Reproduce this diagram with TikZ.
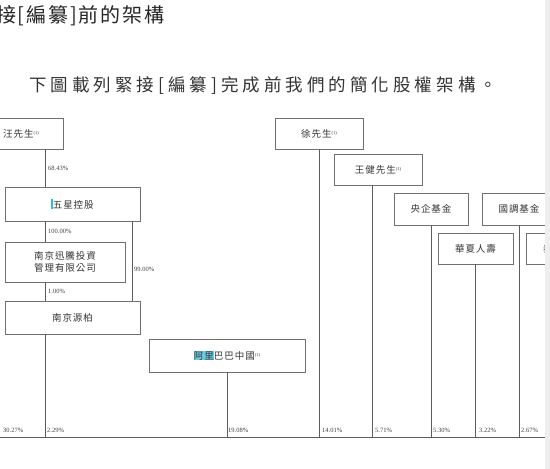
\documentclass[tikz,border=0pt]{standalone}
\usepackage{fontspec}
\setmainfont{Liberation Serif}
\newfontfamily\cjk[LetterSpace=10]{Noto Sans CJK TC}
\newfontfamily\cjktitle[LetterSpace=9]{Noto Sans CJK TC}
\newfontfamily\cjksub[LetterSpace=23]{Noto Sans CJK TC}
\definecolor{boxgray}{HTML}{707070}
\definecolor{linegray}{HTML}{5C5C5C}
\definecolor{pagegray}{HTML}{EEEEEE}
\definecolor{markcyan}{HTML}{2FB8DA}
\newcommand\noteone{{\rmfamily\fontsize{4.5}{5}\selectfont\raisebox{3pt}{(1)}}}
\begin{document}
\begin{tikzpicture}[
  x=1pt, y=-1pt,
  box/.style={
    draw=boxgray, line width=0.9pt, rectangle,
    font=\cjk\fontsize{9.5}{12}\selectfont, text=black!80,
    align=center, inner sep=0pt
  },
  pct/.style={
    font=\fontsize{6.5}{7}\selectfont, text=black!75,
    anchor=west, inner sep=0pt
  },
  link/.style={draw=linegray, line width=0.9pt},
]
\useasboundingbox (0,0) rectangle (550,469);
\clip (0,0) rectangle (550,469);

% headings
\node[font=\cjktitle\fontsize{20}{22}\selectfont, text=black!85, anchor=west, inner sep=0pt]
  (title) at (-4,16) {接[編纂]前的架構};
\node[font=\cjksub\fontsize{17.5}{19}\selectfont, text=black!80, anchor=west, inner sep=0pt]
  (intro) at (29,86) {下圖載列緊接[編纂]完成前我們的簡化股權架構。};

% holders
\node[box, minimum width=84pt, minimum height=31pt] (wang) at (21,133.5) {汪先生\noteone};
\node[box, minimum width=135pt, minimum height=34pt] (wuxing) at (72.5,204)
  {{\color{markcyan}\rule[-1pt]{1.5pt}{10pt}}五星控股};
\node[box, minimum width=120pt, minimum height=40pt] (xunteng) at (65,262)
  {南京迅騰投資\\管理有限公司};
\node[box, minimum width=135pt, minimum height=33pt] (yuanbo) at (72.5,317.5) {南京源柏};
\node[box, minimum width=156pt, minimum height=33pt] (alibaba) at (227,355.5)
  {{\fboxsep=0pt\colorbox{markcyan!70}{阿里}}巴巴中國\noteone};
\node[box, minimum width=88pt, minimum height=31pt] (xu) at (319,133.5) {徐先生\noteone};
\node[box, minimum width=88pt, minimum height=31pt] (wangjian) at (378,169.5) {王健先生\noteone};
\node[box, minimum width=74pt, minimum height=32pt] (yangqi) at (431,209) {央企基金};
\node[box, minimum width=74pt, minimum height=32pt] (guotiao) at (519,209) {國調基金};
\node[box, minimum width=75pt, minimum height=31pt] (huaxia) at (475.5,248.5) {華夏人壽};
\node[box, minimum width=75pt, minimum height=31pt] (taikang) at (563.5,248.5) {泰康人壽};

% columns and base line
\coordinate (col) at (45,0);
\coordinate (colwj) at (372,0);
\coordinate (base) at (0,437);

\draw[link] (wang.south -| col) -- (wuxing.north -| col);
\node[pct] at (48,168) {68.43\%};
\draw[link] (wuxing.south -| col) -- (xunteng.north -| col);
\node[pct] at (48,231) {100.00\%};
\draw[link] ([xshift=-8pt]wuxing.south east) -- ([xshift=-8pt]yuanbo.north east);
\node[pct] at (134,269.5) {99.00\%};
\draw[link] (xunteng.south -| col) -- (yuanbo.north -| col);
\node[pct] at (48,291) {1.00\%};

\draw[link] (yuanbo.south -| col) -- (base -| col);
\draw[link] (alibaba.south) -- (alibaba.south |- base);
\draw[link] (xu.south) -- (xu.south |- base);
\draw[link] (wangjian.south -| colwj) -- (base -| colwj);
\draw[link] (yangqi.south) -- (yangqi.south |- base);
\draw[link] (huaxia.south) -- (huaxia.south |- base);
\draw[link] (guotiao.south) -- (guotiao.south |- base);
\draw[link] (base) -- ++(545,0);

\foreach \px/\val in {3/30.27, 47/2.29, 228/19.08, 322/14.01, 375/5.71, 433/5.30, 479/3.22, 521/2.67}
  \node[pct] at (\px,430.5) {\val\%};

% page edge
\fill[pagegray] (545,0) rectangle (550,469);
\end{tikzpicture}
\end{document}
